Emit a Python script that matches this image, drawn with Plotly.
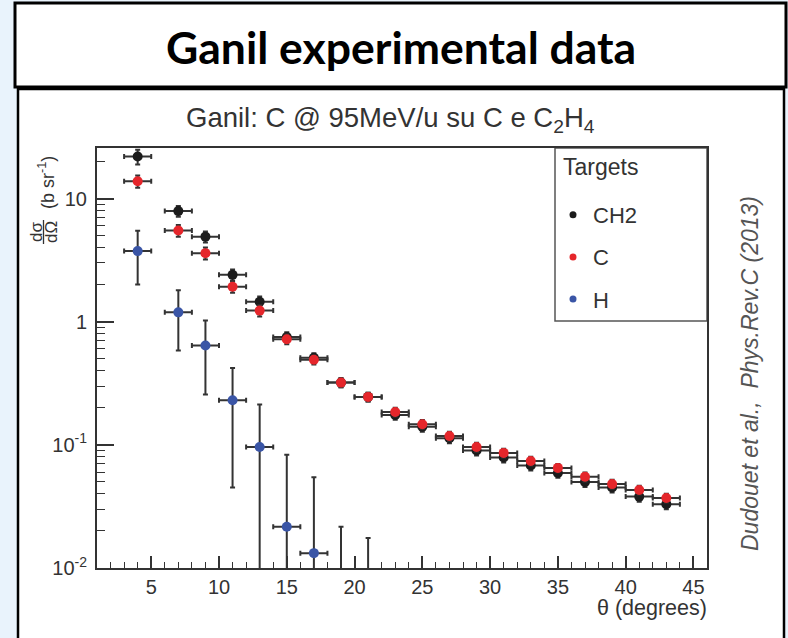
import plotly.graph_objects as go

# ---------------- data ----------------
theta = [4, 7, 9, 11, 13, 15, 17, 19, 21, 23, 25, 27, 29, 31, 33, 35, 37, 39, 41, 43]
theta_halfwidth = [1, 1, 1, 1, 1, 1, 1, 1, 1, 1, 1, 1, 1, 1, 1, 1, 1, 1, 1, 1]

ch2 = [21.9, 7.9, 4.9, 2.4, 1.45, 0.75, 0.51, 0.32, 0.245, 0.175, 0.14, 0.113,
       0.090, 0.079, 0.068, 0.059, 0.050, 0.045, 0.038, 0.033]
ch2_err = [3.0, 0.8, 0.5, 0.25, 0.15, 0.07, 0.045, 0.027, 0.02, 0.015, 0.012, 0.010,
           0.008, 0.007, 0.006, 0.005, 0.0045, 0.004, 0.0035, 0.003]

c_target = [13.8, 5.5, 3.6, 1.92, 1.23, 0.72, 0.49, 0.32, 0.245, 0.185, 0.147, 0.118,
            0.096, 0.086, 0.074, 0.065, 0.055, 0.048, 0.043, 0.037]
c_err = [1.6, 0.6, 0.4, 0.2, 0.13, 0.065, 0.042, 0.027, 0.02, 0.015, 0.012, 0.010,
         0.008, 0.007, 0.006, 0.005, 0.0045, 0.004, 0.0035, 0.003]

theta_h = [4, 7, 9, 11, 13, 15, 17, 19, 21]
theta_h_halfwidth = [1, 1, 1, 1, 1, 1, 1, 1, 1]
h_target = [3.74, 1.19, 0.64, 0.23, 0.096, 0.0216, 0.0132, 0.005, 0.004]
h_err_plus = [1.73, 0.61, 0.38, 0.19, 0.117, 0.0614, 0.0414, 0.0166, 0.0135]
h_err_minus = [1.74, 0.607, 0.384, 0.185, 0.12, 0.03, 0.02, 0.01, 0.01]

series_names = ["CH2", "C", "H"]
series_colors = ["#1c1c1c", "#e5262b", "#3a55a6"]

x_tickvals = [5, 10, 15, 20, 25, 30, 35, 40, 45]
y_tickvals = [0.01, 0.1, 1, 10]
y_ticktext = ["10<sup>-2</sup>", "10<sup>-1</sup>", "1", "10"]

# ---------------- layout geometry ----------------
W, H = 788, 638
L, R, T, B = 97, 81, 148, 70
PW, PH = W - L - R, H - T - B


def px(x):
    return (x - L) / PW


def py(y):
    return 1 - (y - T) / PH


FONT = "Liberation Sans, Arial, Helvetica, sans-serif"
ERR_COL = "#333333"

fig = go.Figure()

data_sets = [
    (theta, ch2, dict(type="data", array=ch2_err), theta_halfwidth),
    (theta, c_target, dict(type="data", array=c_err), theta_halfwidth),
    (theta_h, h_target, dict(type="data", array=h_err_plus, arrayminus=h_err_minus,
                             symmetric=False), theta_h_halfwidth),
]
for (xs, ys, ey, hw), name, col in zip(data_sets, series_names, series_colors):
    ey.update(color=ERR_COL, thickness=2, width=2.5)
    fig.add_trace(go.Scatter(
        x=xs, y=ys, mode="markers", name=name, showlegend=False,
        marker=dict(color=col, size=10, line=dict(width=0)),
        error_y=ey,
        error_x=dict(type="data", array=hw, color=ERR_COL, thickness=2, width=2.5),
    ))

# legend-only entries
for name, col in zip(series_names, series_colors):
    fig.add_trace(go.Scatter(
        x=[None], y=[None], mode="markers", name=name, legendgroup=name,
        marker=dict(color=col, size=7), showlegend=True,
    ))

minor_y = [m * 10 ** e for e in (-2, -1, 0, 1) for m in range(2, 10) if m * 10 ** e < 26]

fig.update_xaxes(
    range=[1, 46], showgrid=False, zeroline=False,
    showline=True, linecolor="#333", linewidth=2, mirror=True,
    ticks="inside", ticklen=12, tickwidth=1.5, tickcolor="#333",
    tickvals=x_tickvals, ticktext=[str(v) for v in x_tickvals],
    tickfont=dict(family=FONT, size=20, color="#333"),
    ticklabelstandoff=0,
    minor=dict(ticks="inside", ticklen=6, tickwidth=1.2, tickcolor="#333", dtick=1, tick0=0,
               showgrid=False),
)
fig.update_yaxes(
    type="log", range=[-2, 1.41], showgrid=False, zeroline=False,
    showline=True, linecolor="#333", linewidth=2, mirror=True,
    ticks="inside", ticklen=17, tickwidth=1.5, tickcolor="#333",
    tickvals=y_tickvals, ticktext=y_ticktext,
    tickfont=dict(family=FONT, size=20, color="#333"),
    ticklabelstandoff=4,
    minor=dict(ticks="inside", ticklen=8, tickwidth=1.2, tickcolor="#333",
               tickvals=minor_y, showgrid=False),
)

shapes = [
    # title box
    dict(type="rect", xref="paper", yref="paper", x0=px(15), x1=px(786), y0=py(87), y1=py(3),
         line=dict(color="black", width=3), fillcolor="white", layer="below"),
    # lower content box
    dict(type="rect", xref="paper", yref="paper", x0=px(18), x1=px(784), y0=py(650), y1=py(89),
         line=dict(color="black", width=2.5), fillcolor="white", layer="below"),
    # legend box
    dict(type="rect", xref="paper", yref="paper", x0=px(555), x1=px(707), y0=py(321), y1=py(148),
         line=dict(color="#555", width=1.5), fillcolor="white", layer="below"),
    # fraction bar of the y title
    dict(type="line", xref="paper", yref="paper", x0=px(43.5), x1=px(43.5), y0=py(244), y1=py(220),
         line=dict(color="#333", width=1.3)),
]

annotations = [
    dict(text="<b>Ganil experimental data</b>", x=px(401), y=py(47), xref="paper", yref="paper",
         showarrow=False, xanchor="center", yanchor="middle",
         font=dict(family="Lato, Open Sans, sans-serif", size=44.5, color="black")),
    dict(text="Ganil: C @ 95MeV/u su C e C<sub>2</sub>H<sub>4</sub>", x=px(390), y=py(119),
         xref="paper", yref="paper", showarrow=False, xanchor="center", yanchor="middle",
         font=dict(family=FONT, size=27.5, color="#333")),
    dict(text="θ (degrees)", x=px(709), y=py(608), xref="paper", yref="paper",
         showarrow=False, xanchor="right", yanchor="middle",
         font=dict(family=FONT, size=21.5, color="#333")),
    dict(text="(b sr<sup>-1</sup>)", x=px(46), y=py(183), xref="paper", yref="paper",
         showarrow=False, textangle=-90, xanchor="center", yanchor="middle",
         font=dict(family=FONT, size=18, color="#333")),
    dict(text="dσ", x=px(36), y=py(232), xref="paper", yref="paper",
         showarrow=False, textangle=-90, xanchor="center", yanchor="middle",
         font=dict(family=FONT, size=17, color="#333")),
    dict(text="dΩ", x=px(51), y=py(232), xref="paper", yref="paper",
         showarrow=False, textangle=-90, xanchor="center", yanchor="middle",
         font=dict(family=FONT, size=17, color="#333")),
    dict(text="<i>Dudouet et al.,  Phys.Rev.C (2013)</i>", x=px(750), y=py(374),
         xref="paper", yref="paper", showarrow=False, textangle=-90,
         xanchor="center", yanchor="middle",
         font=dict(family=FONT, size=23, color="#555")),
    dict(text="Targets", x=px(561), y=py(167), xref="paper", yref="paper",
         showarrow=False, xanchor="left", yanchor="middle",
         font=dict(family=FONT, size=23, color="#333")),
]

fig.update_layout(
    width=W, height=H,
    margin=dict(l=L, r=R, t=T, b=B, pad=0),
    paper_bgcolor="#e9f3fc", plot_bgcolor="white",
    shapes=shapes, annotations=annotations,
    showlegend=True,
    legend=dict(
        x=px(553), y=py(194), xanchor="left", yanchor="top",
        bgcolor="rgba(0,0,0,0)", borderwidth=0,
        font=dict(family=FONT, size=22, color="#333"),
        traceorder="grouped", tracegroupgap=10.5,
        itemsizing="trace",
    ),
)

fig.write_html("out.html", config={"displayModeBar": False},
               post_script="document.body.style.margin='0px';")
